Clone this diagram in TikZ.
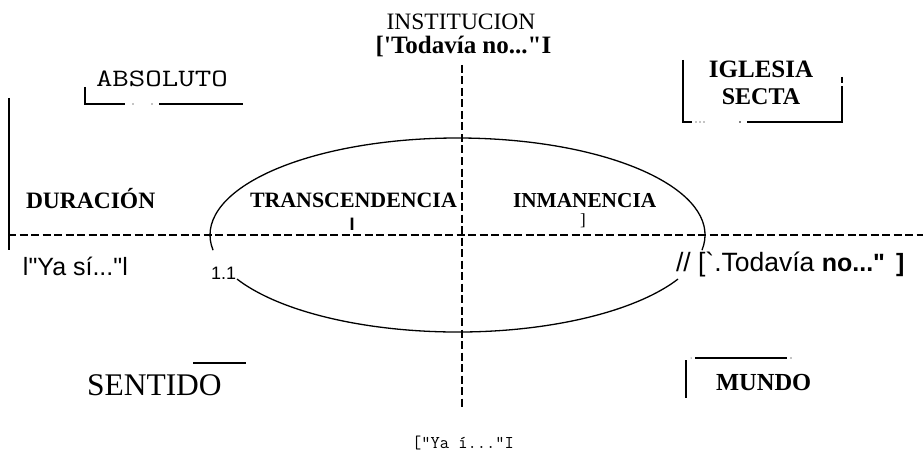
\documentclass[tikz,border=0pt]{standalone}
\usepackage{fontspec}
\newfontfamily\tnr{Liberation Serif}
\newfontfamily\ari{Liberation Sans}
\newcommand\fsz[1]{\fontsize{#1}{#1}\selectfont}
\begin{document}
\begin{tikzpicture}[x=1pt,y=1pt,
  lbl/.style={inner sep=0pt, outer sep=0pt, anchor=base west},
  clbl/.style={inner sep=0pt, outer sep=0pt, anchor=base},
  axisline/.style={line width=2.2pt, dash pattern=on 8pt off 3.5pt},
  frameline/.style={line width=1.2pt},
  curve/.style={line width=1.3pt}]
\useasboundingbox (0,0) rectangle (923,456);

% axes
\coordinate (hl) at (8,221);
\coordinate (hr) at (923,221);
\coordinate (vt) at (462,391);
\coordinate (vb) at (462,48);
\draw[axisline] (hl) -- (hr);
\draw[axisline] (vt) -- (vb);
\coordinate (lt) at (9,358);
\coordinate (lb) at (9,206);
\draw[line width=1.5pt] (lt) -- (lb);

% ellipse
\coordinate (ec) at (457.5,221);
\draw[curve] (ec) ++(-9:247.5 and 97) arc[start angle=-9,end angle=189,x radius=247.5,y radius=97];
\draw[curve] (ec) ++(207:247.5 and 97) arc[start angle=207,end angle=333,x radius=247.5,y radius=97];

% texts
\node[clbl] (inst) at (461,426) {\tnr\fsz{23.5}INSTITUCION};
\node[clbl] (todno) at (463.5,402) {\tnr\bfseries\fsz{25}['Todavía no..."I};
\node[lbl] (abs) at (96,369) {\scalebox{1.28}[1]{\ttfamily\fsz{25}ABSOLUTO}};
\node[lbl] (dur) at (26,248) {\tnr\bfseries\fsz{23.5}DURACIÓN};
\node[lbl] (trans) at (250,249) {\tnr\bfseries\fsz{21.9}TRANSCENDENCIA};
\node[clbl] (tmark) at (352,226) {\ari\bfseries\fsz{18}I};
\node[lbl] (inma) at (513,249) {\tnr\bfseries\fsz{21.3}INMANENCIA};
\node[clbl] (imark) at (583,231) {\tnr\fsz{17}]};
\node[clbl] (igl) at (761,378) {\tnr\bfseries\fsz{25}IGLESIA};
\node[clbl] (sec) at (761,351) {\tnr\bfseries\fsz{24}SECTA};
\node[lbl] (yasi) at (23,181) {\ari\fsz{25}l"Ya sí..."l};
\node[lbl] (oneone) at (211,177) {\ari\fsz{18}1.1};
\node[lbl] (todno2) at (676,185) {\ari\fsz{26.5}// [`.Todavía \bfseries\fsz{25}no..."\, ]};
\node[lbl] (sent) at (87,61) {\tnr\fsz{31.5}SENTIDO};
\node[lbl] (mun) at (716,66) {\tnr\bfseries\fsz{24.5}MUNDO};
\node[lbl] (yai) at (412,8) {\ttfamily\fsz{18}["Ya í..."I};

% ABSOLUTO bracket
\coordinate (a1) at (85,369);
\coordinate (a2) at (85,352);
\coordinate (a3) at (125,352);
\coordinate (a4) at (159,352);
\coordinate (a5) at (243,352);
\draw[frameline] (a1) -- (a2) -- (a3);
\draw[frameline] (a4) -- (a5);
\fill (133,352) circle (0.7);
\fill (152,352) circle (0.7);

% IGLESIA / SECTA frame
\coordinate (g1) at (683,396);
\coordinate (g2) at (683,334);
\coordinate (g3) at (692,334);
\coordinate (g4) at (747,334);
\coordinate (g5) at (842,334);
\coordinate (g6) at (842,370);
\coordinate (g7) at (842,379);
\coordinate (g8) at (842,373);
\draw[frameline] (g1) -- (g2) -- (g3);
\draw[frameline] (g4) -- (g5) -- (g6);
\draw[frameline] (g7) -- (g8);
\fill (696,334) circle (0.6);
\fill (700,334) circle (0.6);
\fill (704,334) circle (0.6);
\fill (740,334) circle (0.8);

% SENTIDO line
\coordinate (s1) at (193,93);
\coordinate (s2) at (246,93);
\draw[frameline] (s1) -- (s2);

% MUNDO frame
\coordinate (m1) at (686,96);
\coordinate (m2) at (686,58);
\coordinate (m3) at (695,98);
\coordinate (m4) at (787,98);
\draw[frameline] (m1) -- (m2);
\draw[frameline] (m3) -- (m4);
\fill (691,98) circle (0.5);
\fill (791,98) circle (0.6);
\end{tikzpicture}
\end{document}
